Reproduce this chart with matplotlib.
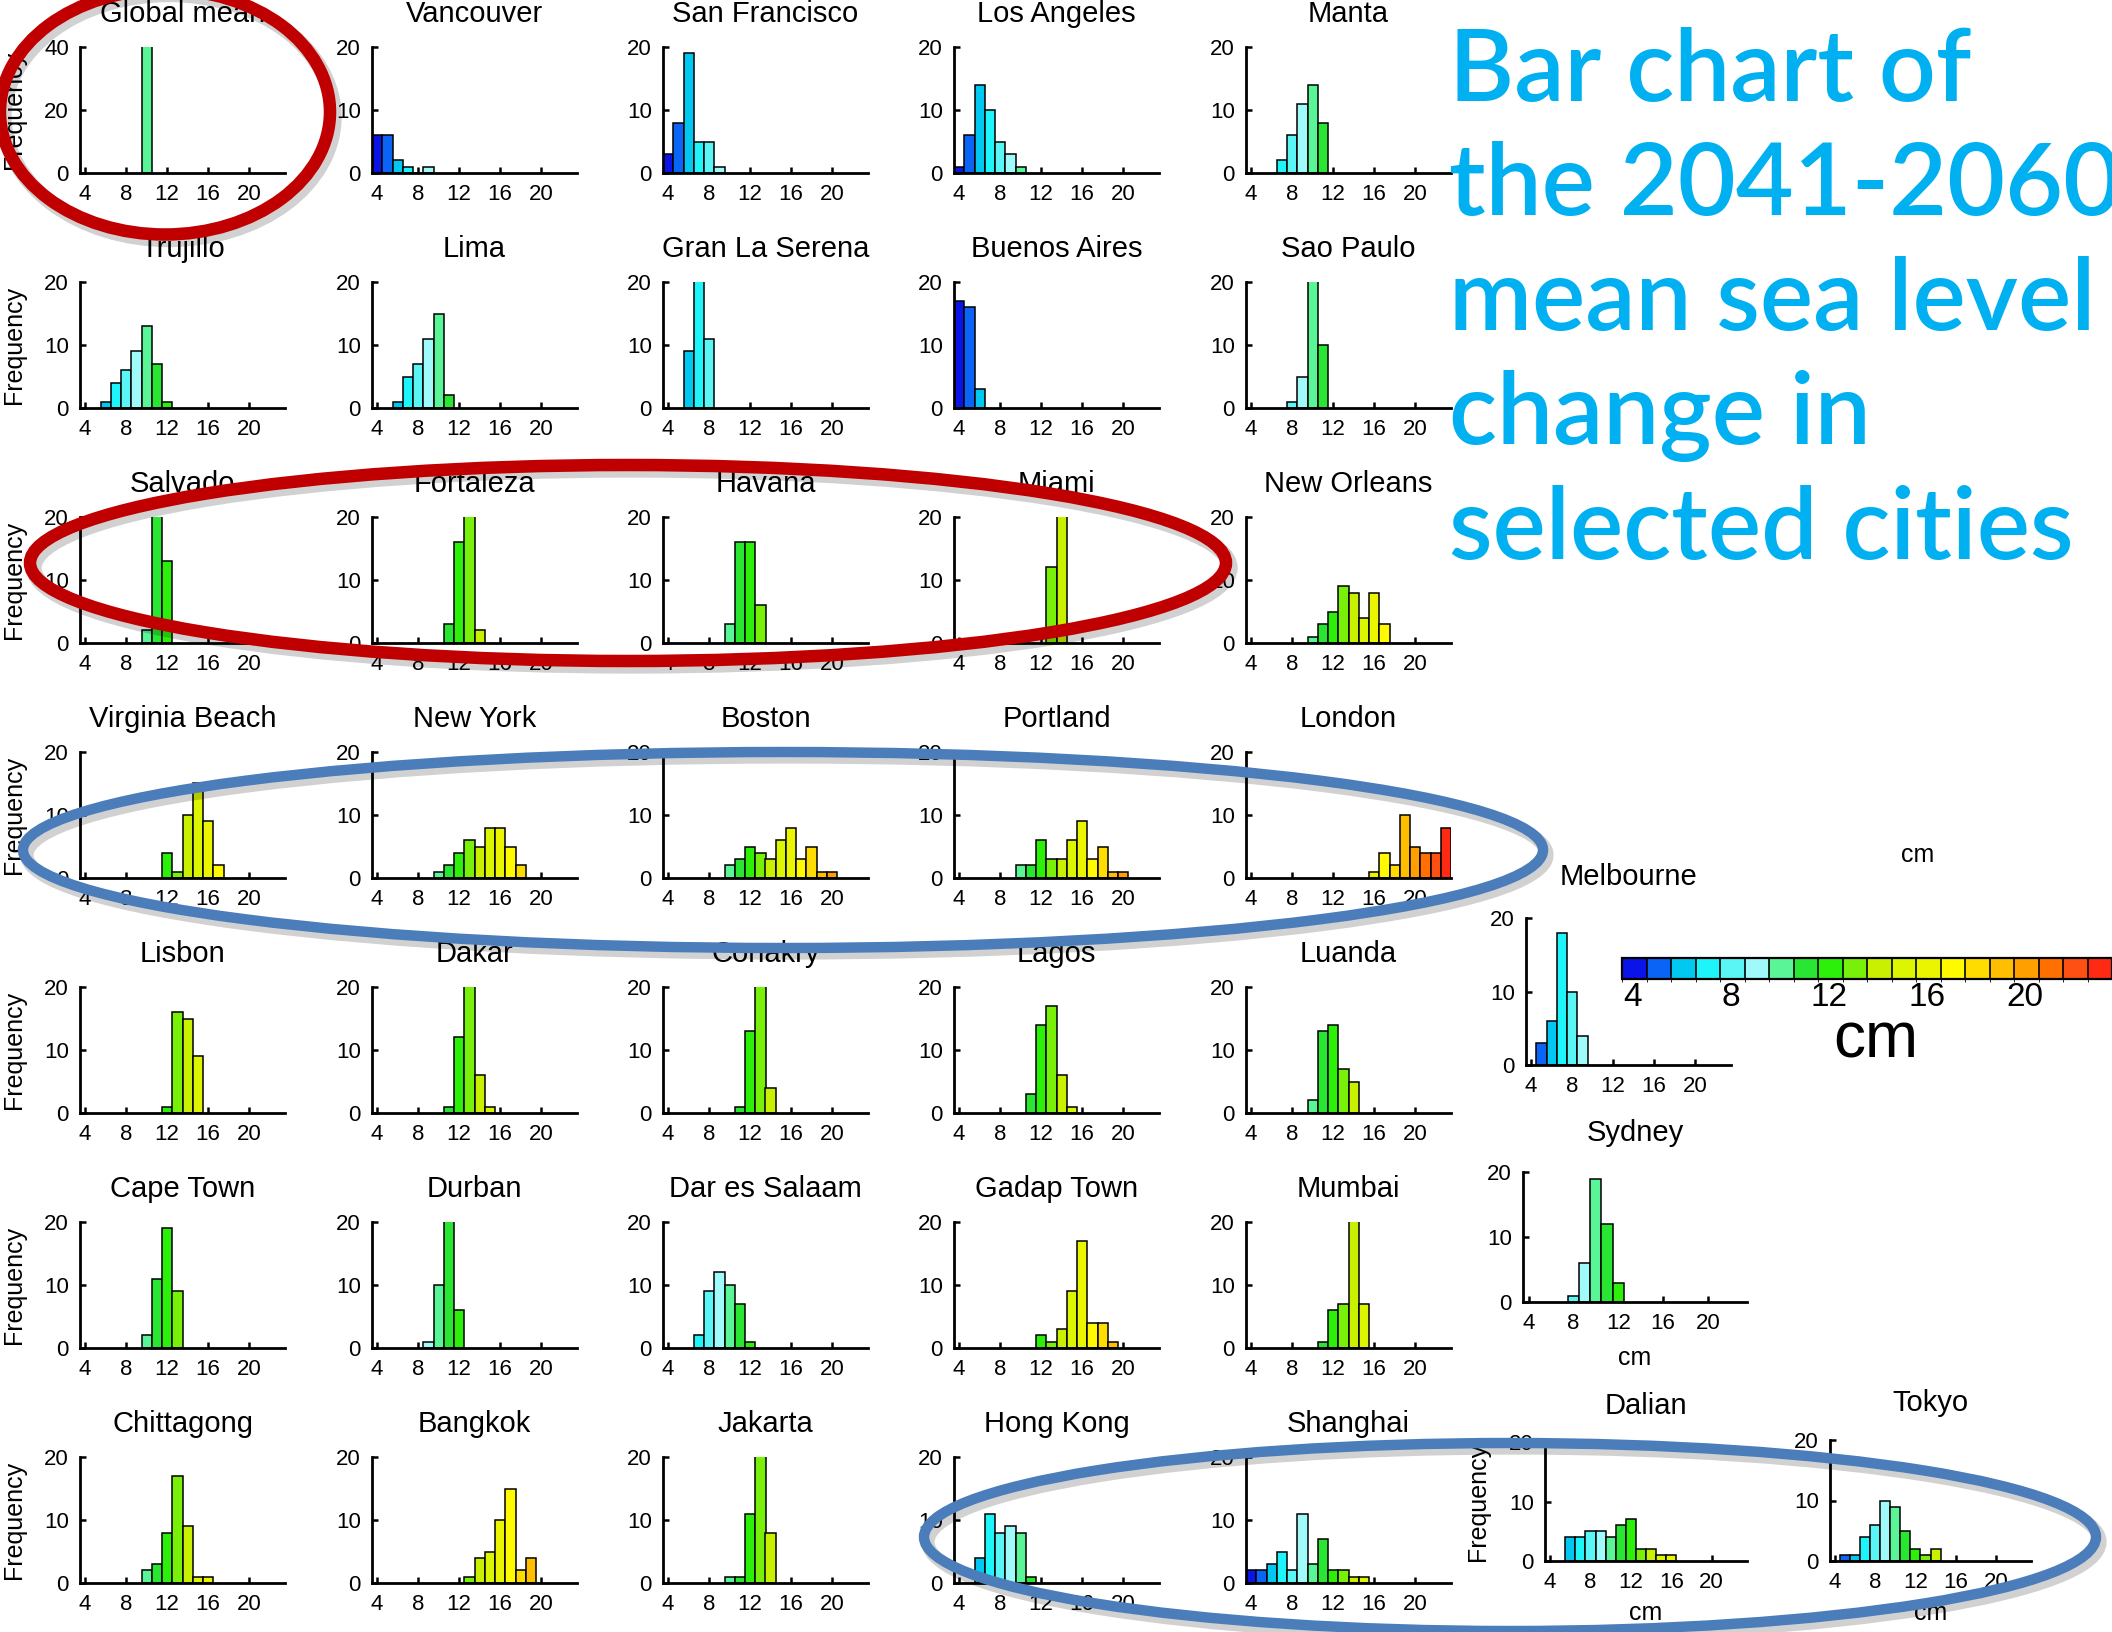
import matplotlib
matplotlib.use('Agg')
import matplotlib.pyplot as plt
import matplotlib as mpl
from matplotlib.colors import ListedColormap, BoundaryNorm
from matplotlib.patches import Ellipse
import numpy as np

W, H = 2112, 1632
plt.rcParams['font.family'] = ['Liberation Sans', 'DejaVu Sans']

# colour levels (cm), one colour per 1-cm class
level_edges = list(range(4, 25))
level_colors = ['#0A14E6', '#0A64F5', '#00C8F0', '#1EF5FA', '#5AF5F5',
                '#A0FAFA', '#5AF596', '#28E632', '#2DF00A', '#78F00A',
                '#C8F000', '#DCF500', '#EBF500', '#FFFA00', '#FFDC00',
                '#FFBE00', '#FFA000', '#FF7000', '#FF5014', '#FF2A14']
tick_values = [4, 8, 12, 16, 20]

# ---- data: first 1-cm class (cm) and frequencies of consecutive classes ----
global_mean_start, global_mean = 10, [42]
vancouver_start, vancouver = 4, [6, 6, 2, 1, 0, 1]
san_francisco_start, san_francisco = 4, [3, 8, 19, 5, 5, 1]
los_angeles_start, los_angeles = 4, [1, 6, 14, 10, 5, 3, 1]
manta_start, manta = 7, [2, 6, 11, 14, 8]
trujillo_start, trujillo = 6, [1, 4, 6, 9, 13, 7, 1]
lima_start, lima = 6, [1, 5, 7, 11, 15, 2]
gran_la_serena_start, gran_la_serena = 6, [9, 22, 11]
buenos_aires_start, buenos_aires = 4, [17, 16, 3]
sao_paulo_start, sao_paulo = 8, [1, 5, 22, 10]
salvado_start, salvado = 10, [2, 22, 13]
fortaleza_start, fortaleza = 11, [3, 16, 22, 2]
havana_start, havana = 10, [3, 16, 16, 6]
miami_start, miami = 13, [12, 22]
new_orleans_start, new_orleans = 10, [1, 3, 5, 9, 8, 4, 8, 3]
virginia_beach_start, virginia_beach = 12, [4, 1, 10, 15, 9, 2]
new_york_start, new_york = 10, [1, 2, 4, 6, 5, 8, 8, 5, 2]
boston_start, boston = 10, [2, 3, 5, 4, 3, 6, 8, 3, 5, 1, 1]
portland_start, portland = 10, [2, 2, 6, 3, 3, 6, 9, 3, 5, 1, 1]
london_start, london = 16, [1, 4, 2, 10, 5, 4, 4, 8]
lisbon_start, lisbon = 12, [1, 16, 15, 9]
dakar_start, dakar = 11, [1, 12, 22, 6, 1]
conakry_start, conakry = 11, [1, 13, 22, 4]
lagos_start, lagos = 11, [3, 14, 17, 6, 1]
luanda_start, luanda = 10, [2, 13, 14, 7, 5]
cape_town_start, cape_town = 10, [2, 11, 19, 9]
durban_start, durban = 9, [1, 10, 22, 6]
dar_es_salaam_start, dar_es_salaam = 7, [2, 9, 12, 10, 7, 1]
gadap_town_start, gadap_town = 12, [2, 1, 3, 9, 17, 4, 4, 1]
mumbai_start, mumbai = 11, [1, 6, 7, 22, 7]
chittagong_start, chittagong = 10, [2, 3, 8, 17, 9, 1, 1]
bangkok_start, bangkok = 13, [1, 4, 5, 10, 15, 2, 4]
jakarta_start, jakarta = 10, [1, 1, 11, 22, 8]
hong_kong_start, hong_kong = 6, [4, 11, 8, 9, 8, 1]
shanghai_start, shanghai = 4, [2, 2, 3, 5, 2, 11, 3, 7, 2, 2, 1, 1]
melbourne_start, melbourne = 5, [3, 6, 18, 10, 4]
sydney_start, sydney = 8, [1, 6, 19, 12, 3]
dalian_start, dalian = 6, [4, 4, 5, 5, 4, 6, 7, 2, 2, 1, 1]
tokyo_start, tokyo = 5, [1, 1, 4, 6, 10, 9, 5, 2, 1, 2]

grid_names = [
    ['Global mean', 'Vancouver', 'San Francisco', 'Los Angeles', 'Manta'],
    ['Trujillo', 'Lima', 'Gran La Serena', 'Buenos Aires', 'Sao Paulo'],
    ['Salvado', 'Fortaleza', 'Havana', 'Miami', 'New Orleans'],
    ['Virginia Beach', 'New York', 'Boston', 'Portland', 'London'],
    ['Lisbon', 'Dakar', 'Conakry', 'Lagos', 'Luanda'],
    ['Cape Town', 'Durban', 'Dar es Salaam', 'Gadap Town', 'Mumbai'],
    ['Chittagong', 'Bangkok', 'Jakarta', 'Hong Kong', 'Shanghai'],
]
grid_data = [
    [(global_mean_start, global_mean), (vancouver_start, vancouver), (san_francisco_start, san_francisco),
     (los_angeles_start, los_angeles), (manta_start, manta)],
    [(trujillo_start, trujillo), (lima_start, lima), (gran_la_serena_start, gran_la_serena),
     (buenos_aires_start, buenos_aires), (sao_paulo_start, sao_paulo)],
    [(salvado_start, salvado), (fortaleza_start, fortaleza), (havana_start, havana),
     (miami_start, miami), (new_orleans_start, new_orleans)],
    [(virginia_beach_start, virginia_beach), (new_york_start, new_york), (boston_start, boston),
     (portland_start, portland), (london_start, london)],
    [(lisbon_start, lisbon), (dakar_start, dakar), (conakry_start, conakry),
     (lagos_start, lagos), (luanda_start, luanda)],
    [(cape_town_start, cape_town), (durban_start, durban), (dar_es_salaam_start, dar_es_salaam),
     (gadap_town_start, gadap_town), (mumbai_start, mumbai)],
    [(chittagong_start, chittagong), (bangkok_start, bangkok), (jakarta_start, jakarta),
     (hong_kong_start, hong_kong), (shanghai_start, shanghai)],
]

cmap = ListedColormap(level_colors)
norm = BoundaryNorm(level_edges, cmap.N)

fig = plt.figure(figsize=(W / 100, H / 100), dpi=100)
fig.patch.set_facecolor('white')


def px_axes(left, top, width, height, **kw):
    return fig.add_axes([left / W, 1 - (top + height) / H, width / W, height / H], **kw)


def hist_panel(left, top, width, height, title, start, counts, ymax=20,
               ylabel=None, xlabel=None, title_off=25, xlabel_off=50):
    ax = px_axes(left, top, width, height)
    x = np.arange(start, start + len(counts))
    ax.bar(x, counts, width=1.0, color=cmap(norm(x)), edgecolor='black',
           linewidth=1.1, zorder=2)
    ax.set_xlim(3.5, 23.5)
    ax.set_ylim(0, ymax)
    ax.set_xticks(tick_values)
    ax.set_yticks([0, ymax / 2, ymax])
    ax.set_yticklabels([str(int(v)) for v in (0, ymax / 2, ymax)])
    for s in ('top', 'right'):
        ax.spines[s].set_visible(False)
    for s in ('left', 'bottom'):
        ax.spines[s].set_linewidth(2.0)
        ax.spines[s].set_zorder(3)
    ax.tick_params(direction='in', length=4, width=1.8, labelsize=16)
    ax.tick_params(axis='x', pad=8)
    ax.tick_params(axis='y', pad=8)
    ax.patch.set_alpha(0)
    ax.annotate(title, xy=(0.5, 1), xycoords='axes fraction',
                xytext=(0, title_off * 0.72), textcoords='offset points',
                ha='center', va='baseline', fontsize=21)
    if ylabel is not None:
        ax.annotate('Frequency', xy=(0, 0.5), xycoords='axes fraction',
                    xytext=(-ylabel * 0.72, 0), textcoords='offset points',
                    rotation=90, ha='center', va='center', fontsize=18)
    if xlabel:
        ax.annotate('cm', xy=(0.5, 0), xycoords='axes fraction',
                    xytext=(0, -xlabel_off * 0.72), textcoords='offset points',
                    ha='center', va='center', fontsize=18)
    return ax


col_left = [80, 372, 663, 954, 1246]
row_top = [47 + 235 * r for r in range(7)]
for r in range(7):
    for c in range(5):
        start, counts = grid_data[r][c]
        ymax = 40 if (r == 0 and c == 0) else 20
        hist_panel(col_left[c], row_top[r], 205, 126, grid_names[r][c], start, counts,
                   ymax=ymax, ylabel=66 if c == 0 else None)

# right-hand panels
hist_panel(1526, 918, 205, 147, 'Melbourne', melbourne_start, melbourne, title_off=33)
hist_panel(1523, 1172, 224, 130, 'Sydney', sydney_start, sydney, title_off=31,
           xlabel=True, xlabel_off=56)
hist_panel(1545, 1442, 202, 119, 'Dalian', dalian_start, dalian, title_off=28,
           ylabel=67, xlabel=True, xlabel_off=52)
hist_panel(1830, 1440, 201, 121, 'Tokyo', tokyo_start, tokyo, title_off=29,
           xlabel=True, xlabel_off=52)

# colour bar
cax = px_axes(1622, 958, 490, 21)
cb = mpl.colorbar.ColorbarBase(cax, cmap=cmap, norm=norm, orientation='horizontal',
                               drawedges=True)
cb.outline.set_linewidth(1.6)
cb.dividers.set_linewidth(1.2)
cb.set_ticks([v + 0.45 for v in tick_values])
cb.set_ticklabels([str(v) for v in tick_values])
cax.tick_params(length=0, labelsize=24, pad=2)

# overlay: annotations in pixel coordinates
ov = px_axes(0, 0, W, H, zorder=20)
ov.set_xlim(0, W)
ov.set_ylim(H, 0)
ov.axis('off')
ov.patch.set_alpha(0)

ov.text(1918, 855, 'cm', fontsize=18, ha='center', va='center')
ov.text(1876, 1040, 'cm', fontsize=46, ha='center', va='center')

title_lines = ['Bar chart of', 'the 2041-2060', 'mean sea level', 'change in', 'selected cities']
for i, line in enumerate(title_lines):
    ov.text(1449, 101 + 114.5 * i, line, fontsize=72, color='#00B0F0',
            family=['Lato', 'DejaVu Sans'], fontweight='semibold',
            ha='left', va='baseline')

ellipses = [
    ((165, 112), 330, 245, 0, '#C00000', 9),
    ((628, 563), 1196, 196, 0, '#C00000', 9),
    ((783, 850), 1520, 196, 0, '#4A7DBA', 7.5),
    ((1510, 1537), 1172, 188, 0, '#4A7DBA', 7.5),
]
for (cx, cy), ew, eh, ang, col, lw in ellipses:
    ov.add_patch(Ellipse((cx + 4, cy + 5), ew, eh, angle=ang, fill=False,
                         edgecolor='black', alpha=0.18, linewidth=lw + 2))
    ov.add_patch(Ellipse((cx, cy), ew, eh, angle=ang, fill=False,
                         edgecolor=col, linewidth=lw))

fig.savefig('out.png', dpi=100)
